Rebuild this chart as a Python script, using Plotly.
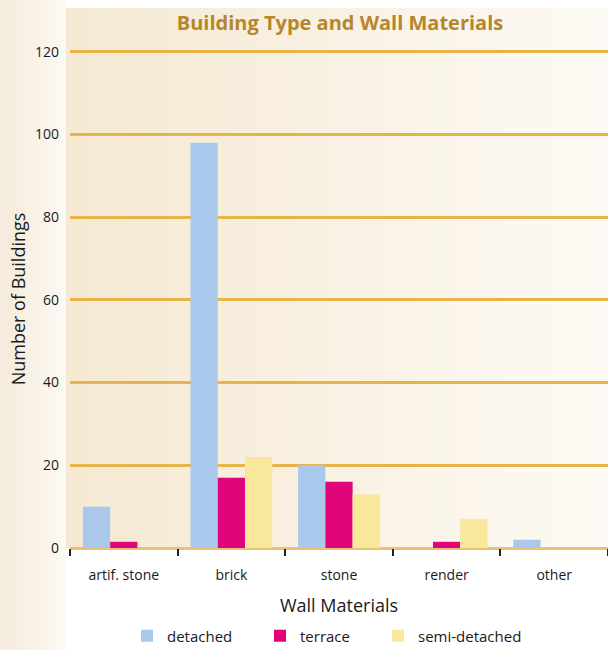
import plotly.graph_objects as go

# Survey counts by wall material and building type
materials = ["artif. stone", "brick", "stone", "render", "other"]
detached = [10, 98, 20, 0, 2]
terrace = [1.5, 17, 16, 1.5, 0]
semi_detached = [0, 22, 13, 7, 0]
y_ticks = [0, 20, 40, 60, 80, 100, 120]

W, H = 608, 650
ML, MR, MT, MB = 70, 0, 50, 102
PW, PH = W - ML - MR, H - MT - MB


def px(x):
    return (x - ML) / PW


def py(y):
    return (H - MB - y) / PH


def mix(c1, c2, t):
    return "rgb(%d,%d,%d)" % tuple(round(a + (b - a) * t) for a, b in zip(c1, c2))


shapes = []
# soft cream strip down the left edge
n = 14
for i in range(n):
    x0 = i * 66 / n
    x1 = (i + 1) * 66 / n + 0.5
    shapes.append(dict(type="rect", xref="paper", yref="paper",
                       x0=px(x0), x1=px(x1), y0=py(H), y1=py(0),
                       fillcolor=mix((245, 236, 221), (252, 249, 243), (i / (n - 1)) ** 1.3),
                       line=dict(width=0), layer="below"))
# beige panel behind title and plot, fading toward the right
n = 48
for i in range(n):
    x0 = 66 + i * (W - 66) / n
    x1 = 66 + (i + 1) * (W - 66) / n + 0.6
    shapes.append(dict(type="rect", xref="paper", yref="paper",
                       x0=px(x0), x1=px(x1), y0=py(548), y1=py(8),
                       fillcolor=mix((245, 233, 211), (253, 250, 245), (i / (n - 1)) ** 1.1),
                       line=dict(width=0), layer="below"))

fig = go.Figure()
fig.add_trace(go.Bar(name="detached", x=materials, y=detached, legend="legend",
                     showlegend=True,
                     marker=dict(color="#a9c8eb", line=dict(width=0))))
fig.add_trace(go.Bar(name="terrace", x=materials, y=terrace, legend="legend2",
                     showlegend=True,
                     marker=dict(color="#e0057a", line=dict(width=0))))
fig.add_trace(go.Bar(name="semi-detached", x=materials, y=semi_detached, legend="legend3",
                     showlegend=True,
                     marker=dict(color="#f9e89b", line=dict(width=0))))

# one legend box per series, laid out in a row under the axis title
legend_style = dict(orientation="h", xanchor="left", yanchor="middle", y=py(636),
                    font=dict(size=15), itemwidth=30, bgcolor="rgba(0,0,0,0)",
                    visible=True)

fig.update_layout(
    width=W, height=H,
    margin=dict(l=ML, r=MR, t=MT, b=MB, autoexpand=False),
    showlegend=True,
    paper_bgcolor="white",
    plot_bgcolor="rgba(0,0,0,0)",
    barmode="group", bargap=0.24, bargroupgap=0,
    font=dict(family="Open Sans, Lato, sans-serif", color="#1a1a1a", size=13),
    title=dict(text="<b>Building Type and Wall Materials</b>",
               x=px(340), xref="paper", xanchor="center",
               y=1 - 23 / H, yanchor="middle", yref="container",
               font=dict(family="Open Sans, sans-serif", size=20, color="#b5862c")),
    xaxis=dict(
        automargin=False,
        tickson="boundaries", ticks="outside", ticklen=7, tickwidth=1.5,
        tickcolor="#222", showline=False, showgrid=False,
        tickfont=dict(size=14), ticklabelstandoff=17,
        title=dict(text="Wall Materials", font=dict(size=18), standoff=16),
    ),
    yaxis=dict(
        automargin=False,
        range=[0, 120.4], tickvals=y_ticks, showgrid=True,
        gridcolor="#e6b449", gridwidth=3,
        zeroline=True, zerolinecolor="#ebc274", zerolinewidth=3,
        showline=False, ticks="", ticklabelstandoff=10,
        tickfont=dict(size=14),
        title=dict(text="Number of Buildings", font=dict(size=18), standoff=4),
    ),
    legend=dict(legend_style, x=px(169 - 42)),
    legend2=dict(legend_style, x=px(302 - 42)),
    legend3=dict(legend_style, x=px(420 - 42)),
    shapes=shapes,
)

fig.write_html("out.html")
